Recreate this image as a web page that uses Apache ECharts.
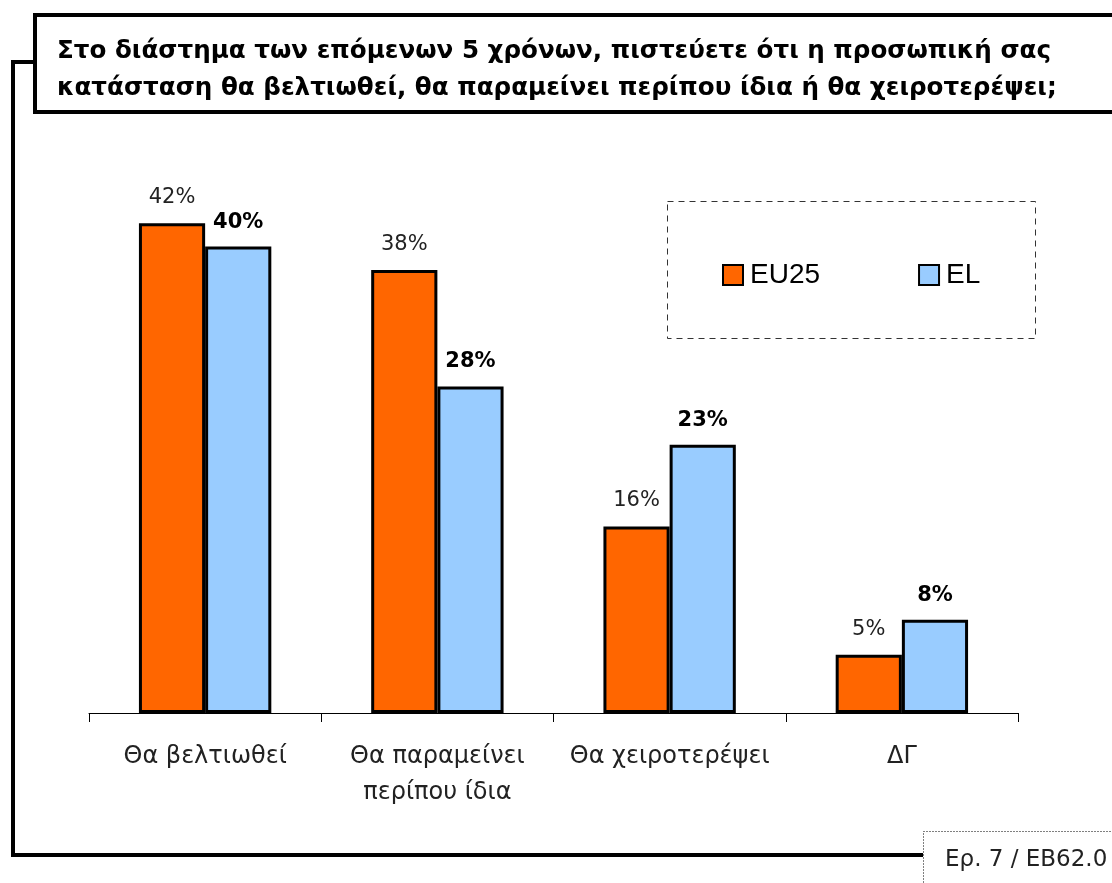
<!DOCTYPE html>
<html>
<head>
<meta charset="utf-8">
<script src="https://cdn.jsdelivr.net/npm/echarts@6/dist/echarts.min.js"></script>
<style>
  html, body { margin: 0; padding: 0; background: #fff; }
  #chart { width: 1112px; height: 883px; }
</style>
</head>
<body>
<div id="chart"></div>
<script>
const categories = ['Θα βελτιωθεί', 'Θα παραμείνει\nπερίπου ίδια', 'Θα χειροτερέψει', 'ΔΓ'];
const seriesNames = ['EU25', 'EL'];
const eu25Values = [42, 38, 16, 5];
const elValues = [40, 28, 23, 8];
const titleLines = [
  'Στο διάστημα των επόμενων 5 χρόνων, πιστεύετε ότι η προσωπική σας',
  'κατάσταση θα βελτιωθεί, θα παραμείνει περίπου ίδια ή θα χειροτερέψει;'
];
const sourceText = 'Ερ. 7 / EB62.0';

const chart = echarts.init(document.getElementById('chart'));
const labelFont = '"DejaVu Sans", "Noto Sans", sans-serif';

chart.setOption({
  animation: false,
  backgroundColor: '#ffffff',
  grid: { left: 89, right: 94, top: 130, bottom: 170 },
  legend: {
    data: seriesNames,
    left: 717,
    top: 256,
    itemWidth: 20,
    itemHeight: 20,
    itemGap: 98,
    textStyle: { fontFamily: '"Liberation Sans", Arial, sans-serif', fontSize: 28, color: '#000', padding: [0, 0, 0, 2] },
    icon: 'rect'
  },
  xAxis: {
    type: 'category',
    data: categories,
    axisLine: { lineStyle: { color: '#000', width: 1 } },
    axisTick: { show: true, length: 9, lineStyle: { color: '#000' } },
    axisLabel: {
      color: '#222',
      fontFamily: labelFont,
      fontSize: 24,
      lineHeight: 36,
      margin: 26,
      interval: 0
    }
  },
  yAxis: {
    type: 'value',
    min: 0,
    max: 50,
    show: false,
    splitLine: { show: false }
  },
  series: [
    {
      name: seriesNames[0],
      type: 'bar',
      data: eu25Values,
      barGap: '0%',
      barCategoryGap: '43%',
      itemStyle: { color: '#FF6600', borderColor: '#000', borderWidth: 3 },
      label: {
        show: true,
        position: 'top',
        distance: 15,
        formatter: '{c}%',
        fontFamily: labelFont,
        fontSize: 21,
        color: '#222'
      }
    },
    {
      name: seriesNames[1],
      type: 'bar',
      data: elValues,
      itemStyle: { color: '#99CCFF', borderColor: '#000', borderWidth: 3 },
      label: {
        show: true,
        position: 'top',
        distance: 14,
        formatter: '{c}%',
        fontFamily: labelFont,
        fontWeight: 'bold',
        fontSize: 21,
        color: '#000'
      }
    }
  ],
  graphic: [
    { type: 'polyline', shape: { points: [[35, 62], [13, 62], [13, 855], [923, 855]] },
      style: { stroke: '#000', lineWidth: 4, fill: null }, z: 10 },
    { type: 'rect', shape: { x: 35, y: 15, width: 1100, height: 97 },
      style: { stroke: '#000', lineWidth: 4, fill: '#fff' }, z: 11 },
    { type: 'text', left: 57, top: 33, z: 12,
      style: { text: titleLines.join('\n'), fontFamily: '"DejaVu Sans", sans-serif',
        fontWeight: 'bold', fontSize: 24.6, lineHeight: 37, fill: '#000' } },
    { type: 'rect', shape: { x: 667.5, y: 201.5, width: 368, height: 137 },
      style: { stroke: '#333', lineWidth: 1, lineDash: [6, 5], fill: null }, z: 5 },
    { type: 'rect', shape: { x: 923.5, y: 831.5, width: 250, height: 80 },
      style: { stroke: '#000', lineWidth: 1, lineDash: [1, 2], fill: '#fff' }, z: 11 },
    { type: 'text', left: 945, top: 849, z: 12,
      style: { text: sourceText, fontFamily: labelFont, fontSize: 23, fill: '#222' } }
  ]
});
</script>
</body>
</html>
